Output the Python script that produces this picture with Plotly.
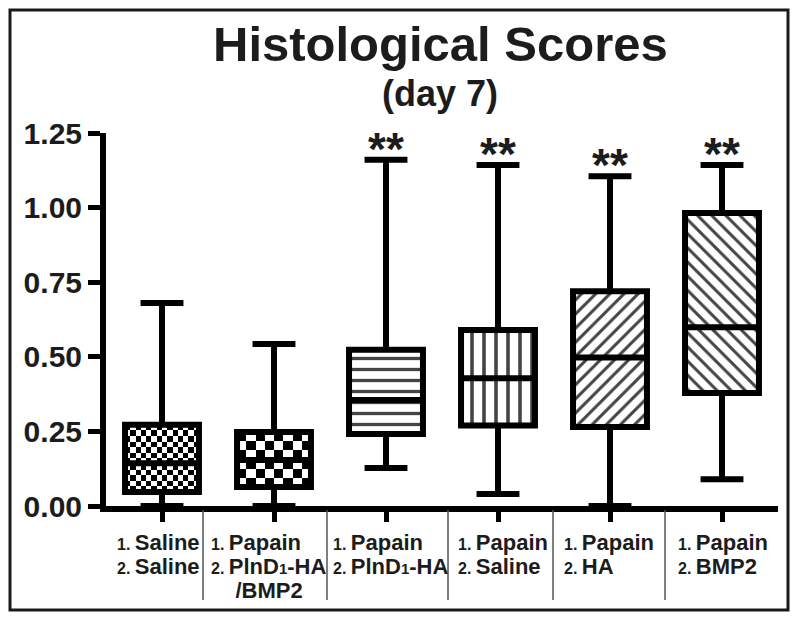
import numpy as np
import plotly.graph_objects as go

# ---------------- data ----------------
GROUP_LINE1 = ["Saline", "Papain", "Papain", "Papain", "Papain", "Papain"]
GROUP_LINE2 = ["Saline", "PlnD|1|-HA", "PlnD|1|-HA", "Saline", "HA", "BMP2"]
GROUP_LINE3 = ["", "/BMP2", "", "", "", ""]
UPPER = [0.68, 0.543, 1.16, 1.143, 1.105, 1.143]
Q3 = [0.272, 0.248, 0.524, 0.59, 0.72, 0.982]
MEDIAN = [0.143, 0.154, 0.355, 0.428, 0.498, 0.599]
Q1 = [0.047, 0.064, 0.241, 0.27, 0.265, 0.379]
LOWER = [0.0, 0.0, 0.127, 0.04, 0.0, 0.09]
SIGNIF = ["", "", "**", "**", "**", "**"]
Y_TICKS = [0.0, 0.25, 0.5, 0.75, 1.0, 1.25]

# ---------------- style ----------------
FONT = "Liberation Sans"
INK = "#1c1c1c"
BOX_W = 0.66
PATTERNS = ["", "", "-", "|", "/", "\\"]
PATTERN_SIZE = [8, 8, 11, 12, 10, 10]
CHECKER = {0: 5.4, 1: 9.0}  # checker cell size in px for groups 0 and 1
PX_PER_X = 112.0
PX_PER_Y = 298.4
LABEL_LEFT = [-47, -65, -55, -42, -48, -46]   # px offset of label block left edge
LABEL_ROWS = [542, 566, 590]                   # screen y of label line centres

# page has an 8px body margin; figure placed so the plot area lands at
# screen x 106..778, y 133..506
PAGE = 8
W, H = 784, 605
SL, ST, SR, SB = 106, 133, 778, 506            # plot area in screen px
L, T = SL - PAGE, ST - PAGE
R = W - (SR - PAGE)
B = H - (SB - PAGE)
PW, PH = SR - SL, SB - ST


def px(sx):
    return (sx - SL) / PW


def py(sy):
    return (SB - sy) / PH


x = list(range(len(Q1)))
fig = go.Figure()

# checkerboard textures (drawn under the boxes)
for i, cell in CHECKER.items():
    nx = max(1, int(round(BOX_W * PX_PER_X / cell)))
    ny = max(1, int(round((Q3[i] - Q1[i]) * PX_PER_Y / cell)))
    xe = np.linspace(x[i] - BOX_W / 2, x[i] + BOX_W / 2, nx + 1)
    ye = np.linspace(Q1[i], Q3[i], ny + 1)
    z = (np.add.outer(np.arange(ny), np.arange(nx)) % 2).astype(float)
    fig.add_trace(go.Heatmap(x=xe, y=ye, z=z, zmin=0, zmax=1,
                             colorscale=[[0, "white"], [1, "black"]],
                             showscale=False, hoverinfo="skip"))

# hatched fills
fig.add_trace(go.Bar(
    x=x, base=Q1, y=[q3 - q1 for q1, q3 in zip(Q1, Q3)], width=BOX_W,
    marker=dict(color=["rgba(0,0,0,0)" if p == "" else "white" for p in PATTERNS],
                line=dict(width=0),
                pattern=dict(shape=PATTERNS, size=PATTERN_SIZE, solidity=0.3,
                             fgcolor="black", fgopacity=1)),
    hoverinfo="skip", showlegend=False))

# box outlines
fig.add_trace(go.Box(
    x=x, q1=Q1, median=MEDIAN, q3=Q3, lowerfence=LOWER, upperfence=UPPER,
    width=BOX_W, whiskerwidth=0.58, fillcolor="rgba(0,0,0,0)",
    line=dict(color="black", width=6), boxpoints=False, showlegend=False))

annotations = []
# significance stars
for i, s in enumerate(SIGNIF):
    if s:
        annotations.append(dict(x=x[i], y=UPPER[i], xref="x", yref="y", text=s,
                                showarrow=False, yanchor="bottom", yshift=-17,
                                font=dict(family=FONT, size=46, color=INK, weight="bold")))


# category labels
def lab(t):
    parts = t.split("|")
    if len(parts) == 3:
        return parts[0] + "<span style='font-size:15px'>" + parts[1] + "</span>" + parts[2]
    return t


NUM = "<span style='font-size:16px'>%d. </span>"
for i in x:
    lines = [(NUM % 1) + GROUP_LINE1[i], (NUM % 2) + lab(GROUP_LINE2[i])]
    if GROUP_LINE3[i]:
        lines.append("&nbsp;&nbsp;&nbsp;&nbsp;" + GROUP_LINE3[i])
    for k, txt in enumerate(lines):
        annotations.append(dict(x=x[i], y=py(LABEL_ROWS[k]), xref="x", yref="paper",
                                text=txt, showarrow=False, align="left",
                                xanchor="left", yanchor="middle", xshift=LABEL_LEFT[i],
                                font=dict(family=FONT, size=22, color=INK, weight="bold")))

# title
annotations.append(dict(x=px(440), y=py(44), xref="paper", yref="paper",
                        text="Histological Scores", showarrow=False,
                        xanchor="center", yanchor="middle",
                        font=dict(family=FONT, size=49, color=INK, weight="bold")))
annotations.append(dict(x=px(440), y=py(94), xref="paper", yref="paper",
                        text="(day 7)", showarrow=False,
                        xanchor="center", yanchor="middle",
                        font=dict(family=FONT, size=36, color=INK, weight="bold")))

shapes = []
for sx in [203, 327, 448, 553, 665]:
    shapes.append(dict(type="line", xref="paper", yref="paper",
                       x0=px(sx), x1=px(sx), y0=py(510), y1=py(600),
                       line=dict(color="#555555", width=1.5)))
shapes.append(dict(type="rect", xref="paper", yref="paper",
                   x0=px(10), x1=px(788), y0=py(610), y1=py(10),
                   line=dict(color="#1a1a1a", width=3)))

fig.update_layout(
    width=W, height=H, margin=dict(l=L, r=R, t=T, b=B),
    paper_bgcolor="white", plot_bgcolor="white",
    showlegend=False, annotations=annotations, shapes=shapes,
    xaxis=dict(range=[-0.5, 5.5], tickvals=x, ticktext=[""] * len(x),
               showgrid=False, zeroline=False, showline=True, linecolor="black",
               linewidth=6, ticks="outside", ticklen=10, tickwidth=5, tickcolor="black"),
    yaxis=dict(range=[0, 1.25], tickvals=Y_TICKS, tickformat=".2f",
               showgrid=False, zeroline=False, showline=True, linecolor="black",
               linewidth=6, ticks="outside", ticklen=12, tickwidth=5, tickcolor="black",
               tickfont=dict(family=FONT, size=30, color=INK, weight="bold")),
)

fig.write_html("out.html")
